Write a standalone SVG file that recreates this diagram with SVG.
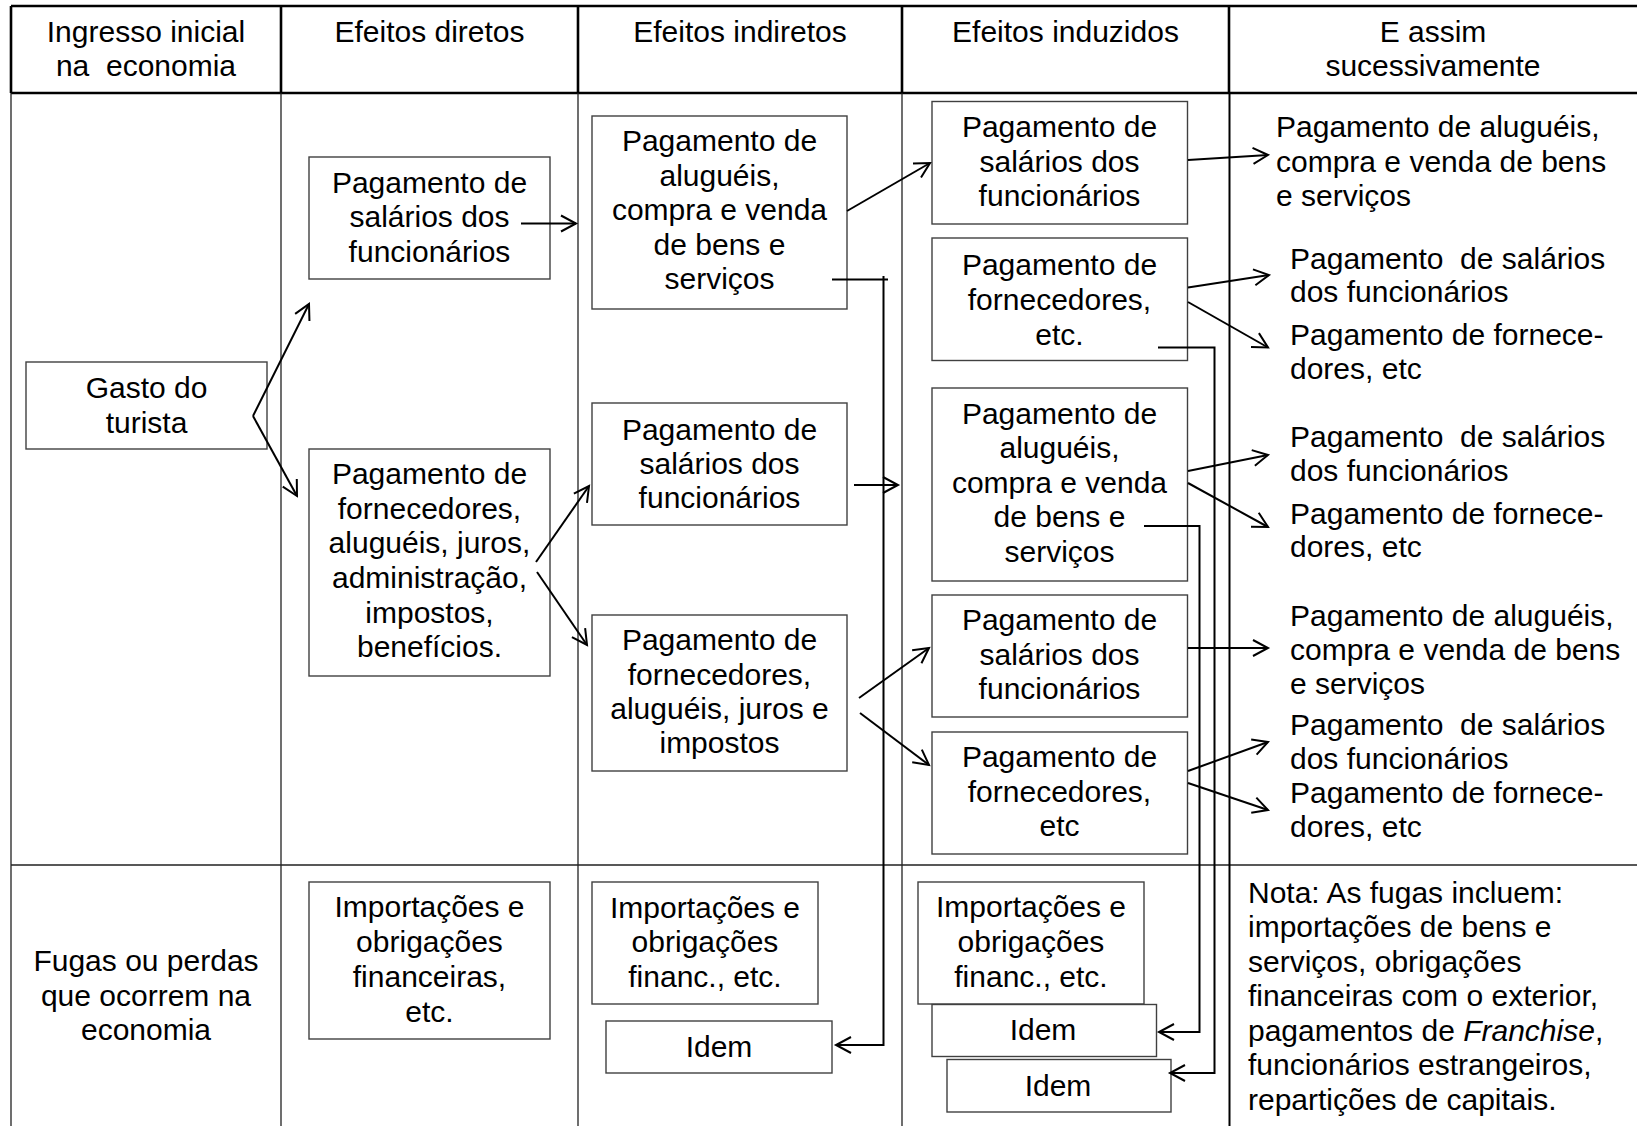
<svg xmlns="http://www.w3.org/2000/svg" width="1637" height="1126" viewBox="0 0 1637 1126">
<style>
.t{font-family:"Liberation Sans",Arial,sans-serif;font-size:30px;fill:#000;text-anchor:middle;white-space:pre}
.l{text-anchor:start}
.box{fill:#fff;stroke:#404040;stroke-width:1.4}
.hg{stroke:#000;stroke-width:2.6;fill:none}
.bg{stroke:#222;stroke-width:1.3;fill:none}
.c{stroke:#000;stroke-width:2;fill:none}
.a{marker-end:url(#ah)}
</style>
<defs>
<marker id="ah" markerUnits="userSpaceOnUse" markerWidth="24" markerHeight="24" viewBox="-20 -12 24 24" refX="0" refY="0" orient="auto" overflow="visible">
<path d="M-15,-8 L0,0 L-15,8" fill="none" stroke="#000" stroke-width="2"/>
</marker>
</defs>
<rect width="1637" height="1126" fill="#fff"/>
<g id="grid">
<path class="hg" d="M11,6 H1637 M11,93 H1637 M11,6 V93 M281,6 V93 M578,6 V93 M902,6 V93 M1229,6 V93"/>
<path class="bg" d="M11,93 V1126 M281,93 V1126 M578,93 V1126 M902,93 V1126 M11,865 H1637"/>
<path class="c" d="M1229.5,93 V1126"/>
</g>
<g id="headers">
<text class="t" x="146" y="41.5">Ingresso inicial</text>
<text class="t" x="146" y="76">na  economia</text>
<text class="t" x="429.5" y="41.5">Efeitos diretos</text>
<text class="t" x="740" y="41.5">Efeitos indiretos</text>
<text class="t" x="1065.5" y="41.5">Efeitos induzidos</text>
<text class="t" x="1433" y="41.5">E assim</text>
<text class="t" x="1433" y="76">sucessivamente</text>
<text class="t" x="146" y="971">Fugas ou perdas</text>
<text class="t" x="146" y="1005.5">que ocorrem na</text>
<text class="t" x="146" y="1040">economia</text>
</g>
<g id="gasto">
<rect class="box" x="26" y="362" width="241" height="87"/>
<text class="t" x="146.5" y="398">Gasto do</text>
<text class="t" x="146.5" y="432.5">turista</text>
</g>
<g id="dir-salarios">
<rect class="box" x="309" y="157" width="241" height="122"/>
<text class="t" x="429.5" y="192.5">Pagamento de</text>
<text class="t" x="429.5" y="227">salários dos</text>
<text class="t" x="429.5" y="261.5">funcionários</text>
</g>
<g id="dir-fornecedores">
<rect class="box" x="309" y="449" width="241" height="227"/>
<text class="t" x="429.5" y="484">Pagamento de</text>
<text class="t" x="429.5" y="518.5">fornecedores,</text>
<text class="t" x="429.5" y="553">aluguéis, juros,</text>
<text class="t" x="429.5" y="588">administração,</text>
<text class="t" x="429.5" y="622.5">impostos,</text>
<text class="t" x="429.5" y="657">benefícios.</text>
</g>
<g id="dir-fugas">
<rect class="box" x="309" y="882" width="241" height="157"/>
<text class="t" x="429.5" y="917">Importações e</text>
<text class="t" x="429.5" y="952">obrigações</text>
<text class="t" x="429.5" y="987">financeiras,</text>
<text class="t" x="429.5" y="1022">etc.</text>
</g>
<g id="ind-alugueis">
<rect class="box" x="592" y="116" width="255" height="193"/>
<text class="t" x="719.5" y="151">Pagamento de</text>
<text class="t" x="719.5" y="185.5">aluguéis,</text>
<text class="t" x="719.5" y="220">compra e venda</text>
<text class="t" x="719.5" y="254.5">de bens e</text>
<text class="t" x="719.5" y="289">serviços</text>
</g>
<g id="ind-salarios">
<rect class="box" x="592" y="403" width="255" height="122"/>
<text class="t" x="719.5" y="439.5">Pagamento de</text>
<text class="t" x="719.5" y="474">salários dos</text>
<text class="t" x="719.5" y="508">funcionários</text>
</g>
<g id="ind-fornecedores">
<rect class="box" x="592" y="615" width="255" height="156"/>
<text class="t" x="719.5" y="650">Pagamento de</text>
<text class="t" x="719.5" y="684.5">fornecedores,</text>
<text class="t" x="719.5" y="719">aluguéis, juros e</text>
<text class="t" x="719.5" y="753">impostos</text>
</g>
<g id="ind-fugas">
<rect class="box" x="592" y="882" width="226" height="122"/>
<text class="t" x="705" y="917.5">Importações e</text>
<text class="t" x="705" y="952">obrigações</text>
<text class="t" x="705" y="987">financ., etc.</text>
</g>
<g id="ind-idem">
<rect class="box" x="606" y="1021" width="226" height="52"/>
<text class="t" x="719" y="1057">Idem</text>
</g>
<g id="indu-salarios1">
<rect class="box" x="932" y="101.5" width="255.5" height="122.5"/>
<text class="t" x="1059.5" y="137">Pagamento de</text>
<text class="t" x="1059.5" y="171.5">salários dos</text>
<text class="t" x="1059.5" y="206">funcionários</text>
</g>
<g id="indu-fornecedores1">
<rect class="box" x="932" y="238" width="255.5" height="122.5"/>
<text class="t" x="1059.5" y="275">Pagamento de</text>
<text class="t" x="1059.5" y="310">fornecedores,</text>
<text class="t" x="1059.5" y="345">etc.</text>
</g>
<g id="indu-alugueis">
<rect class="box" x="932" y="388" width="255.5" height="193"/>
<text class="t" x="1059.5" y="423.5">Pagamento de</text>
<text class="t" x="1059.5" y="458">aluguéis,</text>
<text class="t" x="1059.5" y="492.5">compra e venda</text>
<text class="t" x="1059.5" y="527">de bens e</text>
<text class="t" x="1059.5" y="561.5">serviços</text>
</g>
<g id="indu-salarios2">
<rect class="box" x="932" y="595" width="255.5" height="122"/>
<text class="t" x="1059.5" y="630">Pagamento de</text>
<text class="t" x="1059.5" y="664.5">salários dos</text>
<text class="t" x="1059.5" y="699">funcionários</text>
</g>
<g id="indu-fornecedores2">
<rect class="box" x="932" y="732" width="255.5" height="122"/>
<text class="t" x="1059.5" y="767">Pagamento de</text>
<text class="t" x="1059.5" y="801.5">fornecedores,</text>
<text class="t" x="1059.5" y="836">etc</text>
</g>
<g id="indu-fugas">
<rect class="box" x="918" y="882" width="226" height="122"/>
<text class="t" x="1031" y="917">Importações e</text>
<text class="t" x="1031" y="952">obrigações</text>
<text class="t" x="1031" y="987">financ., etc.</text>
</g>
<g id="indu-idem1">
<rect class="box" x="932" y="1004.5" width="224.5" height="52"/>
<text class="t" x="1043" y="1040">Idem</text>
</g>
<g id="indu-idem2">
<rect class="box" x="947" y="1059.5" width="224" height="52.5"/>
<text class="t" x="1058" y="1095.5">Idem</text>
</g>
<g id="suc-1">
<text class="t l" x="1276" y="137">Pagamento de aluguéis,</text>
<text class="t l" x="1276" y="171.5">compra e venda de bens</text>
<text class="t l" x="1276" y="206">e serviços</text>
</g>
<g id="suc-2">
<text class="t l" x="1290" y="268.5">Pagamento  de salários</text>
<text class="t l" x="1290" y="302">dos funcionários</text>
</g>
<g id="suc-3">
<text class="t l" x="1290" y="345">Pagamento de fornece-</text>
<text class="t l" x="1290" y="379">dores, etc</text>
</g>
<g id="suc-4">
<text class="t l" x="1290" y="447">Pagamento  de salários</text>
<text class="t l" x="1290" y="481">dos funcionários</text>
</g>
<g id="suc-5">
<text class="t l" x="1290" y="523.5">Pagamento de fornece-</text>
<text class="t l" x="1290" y="557">dores, etc</text>
</g>
<g id="suc-6">
<text class="t l" x="1290" y="626">Pagamento de aluguéis,</text>
<text class="t l" x="1290" y="660">compra e venda de bens</text>
<text class="t l" x="1290" y="694">e serviços</text>
</g>
<g id="suc-7">
<text class="t l" x="1290" y="735">Pagamento  de salários</text>
<text class="t l" x="1290" y="769">dos funcionários</text>
</g>
<g id="suc-8">
<text class="t l" x="1290" y="802.5">Pagamento de fornece-</text>
<text class="t l" x="1290" y="837">dores, etc</text>
</g>
<g id="nota">
<text class="t l" x="1248" y="902.5">Nota: As fugas incluem:</text>
<text class="t l" x="1248" y="937">importações de bens e</text>
<text class="t l" x="1248" y="971.5">serviços, obrigações</text>
<text class="t l" x="1248" y="1006">financeiras com o exterior,</text>
<text class="t l" x="1248" y="1040.5">pagamentos de <tspan font-style="italic">Franchise</tspan>,</text>
<text class="t l" x="1248" y="1075">funcionários estrangeiros,</text>
<text class="t l" x="1248" y="1109.5">repartições de capitais.</text>
</g>
<g id="connectors">
<path class="c a" d="M253,416 L309,304"/>
<path class="c a" d="M253,416 L297,496"/>
<path class="c a" d="M521,223.5 H576"/>
<path class="c a" d="M536,562 L589,486"/>
<path class="c a" d="M537,572 L587,645"/>
<path class="c a" d="M847,211 L930,163"/>
<path class="c" d="M832,279.5 H888"/>
<path class="c a" d="M883.5,276 V1045 H836"/>
<path class="c a" d="M854,485 H898"/>
<path class="c a" d="M859,698 L929,648"/>
<path class="c a" d="M860,713 L929,765"/>
<path class="c a" d="M1188,160 L1268,155"/>
<path class="c a" d="M1188,287.5 L1269,275"/>
<path class="c a" d="M1188,302 L1268,347.5"/>
<path class="c a" d="M1158,347.5 H1214.5 V1073 H1170"/>
<path class="c a" d="M1188,471 L1268,455"/>
<path class="c a" d="M1188,483 L1268,527"/>
<path class="c a" d="M1144,526 H1199.5 V1032 H1159"/>
<path class="c a" d="M1188,648 H1268"/>
<path class="c a" d="M1188,771 L1268,742"/>
<path class="c a" d="M1188,783 L1268,810"/>
</g>
</svg>
